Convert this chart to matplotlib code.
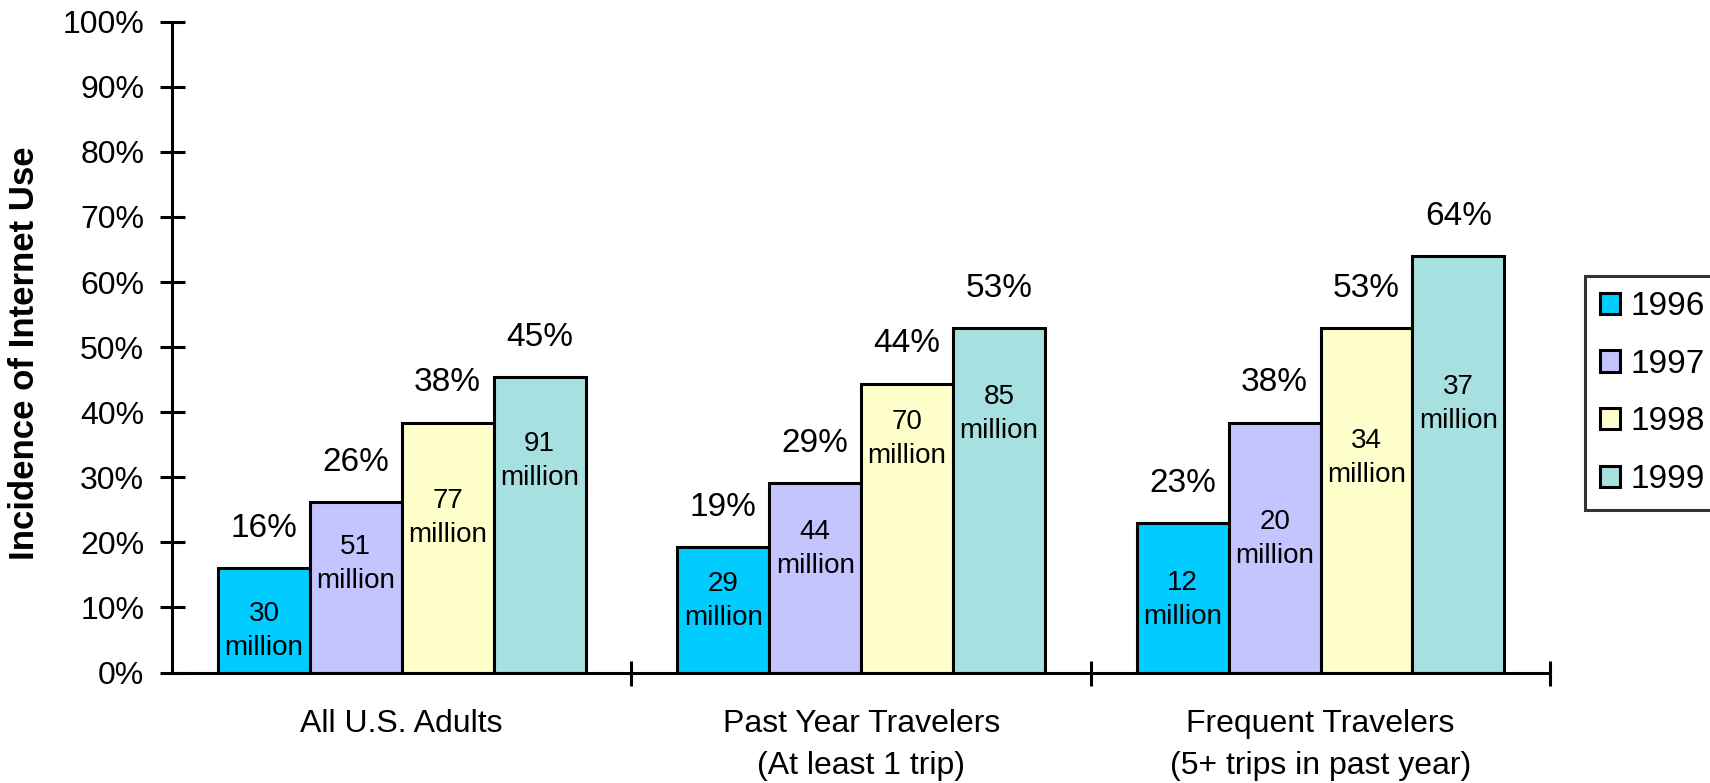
import matplotlib.pyplot as plt
import numpy as np

# data
categories = ["All U.S. Adults", "Past Year Travelers\n(At least 1 trip)",
              "Frequent Travelers\n(5+ trips in past year)"]
years = ["1996", "1997", "1998", "1999"]
pct_1996 = [16.0, 19.3, 22.9]
pct_1997 = [26.2, 29.1, 38.4]
pct_1998 = [38.4, 44.4, 52.9]
pct_1999 = [45.4, 52.9, 64.0]
mil_1996 = [30, 29, 12]
mil_1997 = [51, 44, 20]
mil_1998 = [77, 70, 34]
mil_1999 = [91, 85, 37]

# layout: how far below the bar top the "NN million" block sits (in % units)
drop_1996 = [9.6, 8.3, 11.8]
drop_1997 = [9.5, 10.1, 17.9]
drop_1998 = [14.6, 8.5, 19.9]
drop_1999 = [12.9, 13.2, 22.8]

series = [pct_1996, pct_1997, pct_1998, pct_1999]
millions = [mil_1996, mil_1997, mil_1998, mil_1999]
drops = [drop_1996, drop_1997, drop_1998, drop_1999]
colors = ["#00CCFF", "#C4C4FF", "#FFFFCC", "#A6E0E0"]

plt.rcParams["font.family"] = ["Liberation Sans", "DejaVu Sans"]

fig = plt.figure(figsize=(17.1, 7.83), dpi=100)
ax = fig.add_axes([0.1006, 0.1411, 0.806, 0.8312])

x = np.arange(len(categories))
width = 0.2
for i, (vals, mils, drp) in enumerate(zip(series, millions, drops)):
    pos = x + (i - 1.5) * width
    ax.bar(pos, vals, width, color=colors[i], edgecolor="black",
           linewidth=2.2, label=years[i], zorder=2)
    for xp, v, m, d in zip(pos, vals, mils, drp):
        ax.text(xp, v + 6.1, f"{v:.0f}%", ha="center", va="center", fontsize=24)
        ax.text(xp, v - d, f"{m}\nmillion", ha="center", va="center",
                fontsize=20, linespacing=1.4)

ax.set_xlim(-0.5, 2.5)
ax.set_ylim(0, 100)
ax.set_yticks(np.arange(0, 101, 10))
ax.set_yticklabels([f"{t}%" for t in range(0, 101, 10)])
ax.set_xticks([0.5, 1.5, 2.5])
ax.set_xticklabels([])
ax.set_xticks(x, minor=True)
ax.set_xticklabels(categories, minor=True, fontsize=23, linespacing=1.55)
ax.tick_params(axis="x", which="minor", length=0, pad=26)
ax.tick_params(axis="both", which="major", direction="inout", length=18,
               width=2.2, labelsize=23)
ax.tick_params(axis="y", pad=11)

for s in ["top", "right"]:
    ax.spines[s].set_visible(False)
for s in ["left", "bottom"]:
    ax.spines[s].set_linewidth(2.2)

ax.set_ylabel("Incidence of Internet Use", fontsize=25, fontweight="bold")
ax.yaxis.set_label_coords(-0.095, 0.49)

leg = ax.legend(loc="upper left", bbox_to_anchor=(0.927, 0.6475),
                bbox_transform=fig.transFigure, borderaxespad=0,
                fontsize=24, frameon=True, fancybox=False,
                handlelength=0.6, handleheight=0.6, handletextpad=0.3,
                labelspacing=0.8, borderpad=0.45)
leg.get_frame().set_edgecolor("black")
leg.get_frame().set_linewidth(2.2)

fig.savefig("out.png", dpi=100)
